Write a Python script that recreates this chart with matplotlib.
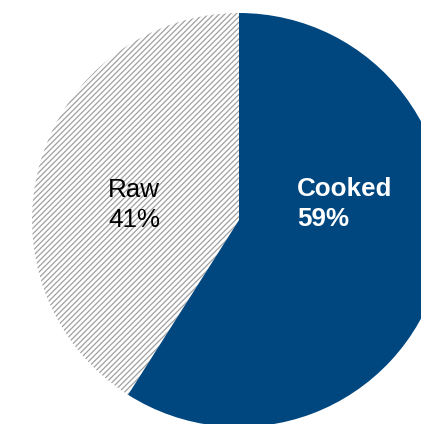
import matplotlib.pyplot as plt

plt.rcParams['font.family'] = ['Liberation Sans', 'DejaVu Sans']
plt.rcParams['hatch.linewidth'] = 0.9

# data
labels = ['Raw', 'Cooked']
shares = [41, 59]
colors = ['white', '#00467f']

fig = plt.figure(figsize=(4.21, 4.24), dpi=100)
ax = fig.add_axes([0, 0, 1, 1])

wedges, _ = ax.pie(shares, colors=colors, startangle=90, counterclock=True,
                   radius=1.0, wedgeprops=dict(linewidth=0))
# raw slice: fine grey diagonal hatching
wedges[0].set_hatch('//////')
wedges[0].set_edgecolor('#a0a0a0')
wedges[0].set_linewidth(0)

# labels
ax.text(-0.507, 0.072, f'{labels[0]}\n{shares[0]}%', ha='center', va='center',
        fontsize=18.7, color='black', linespacing=1.35)
ax.text(0.28, 0.077, f'{labels[1]}\n{shares[1]}%', ha='left', va='center',
        fontsize=18.7, color='white', fontweight='bold', linespacing=1.35)

ax.set_xlim(-239 / 207, (421 - 239) / 207)
ax.set_ylim((220 - 424) / 207, 220 / 207)
ax.set_aspect('auto')
ax.axis('off')

fig.savefig('out.png', dpi=100)
